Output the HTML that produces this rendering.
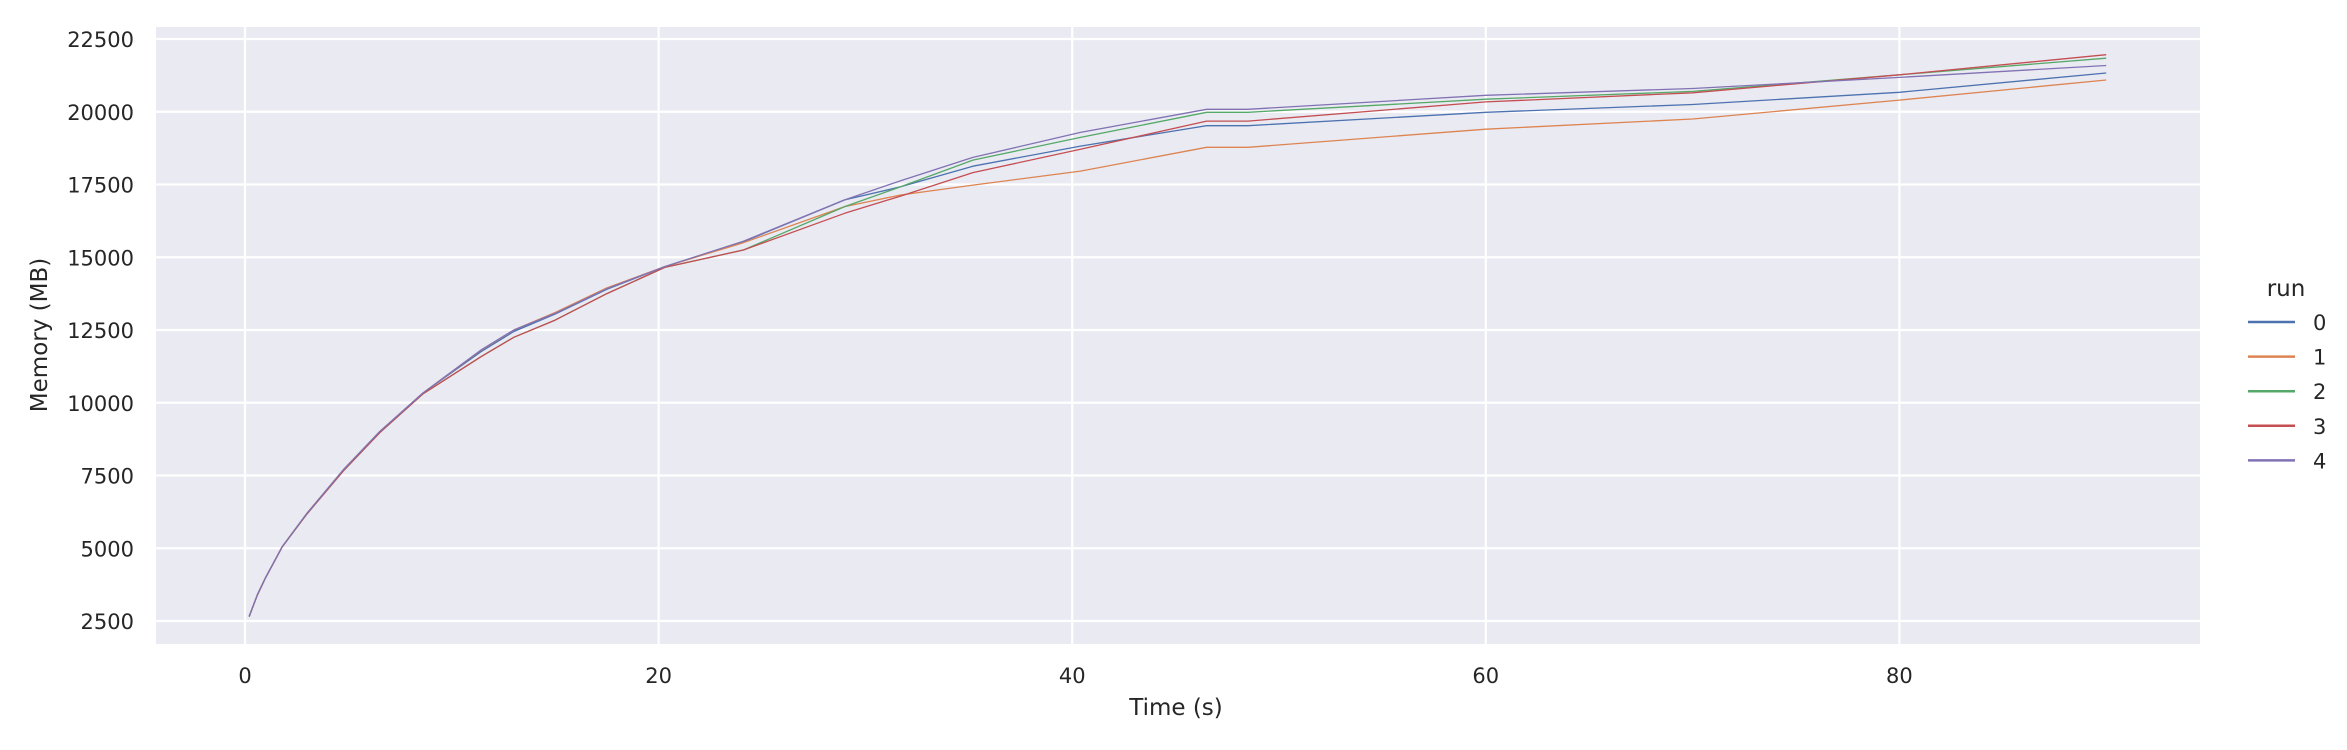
<!DOCTYPE html>
<html><head><meta charset="utf-8"><style>
html,body{margin:0;padding:0;background:#fff;}
svg{display:block;font-family:"DejaVu Sans","Liberation Sans",sans-serif;}
</style></head><body>
<svg id="chart" width="2347" height="750" viewBox="0 0 2347 750" xmlns="http://www.w3.org/2000/svg">
<rect x="156" y="27" width="2044" height="617" fill="#eaeaf2"/>
<g id="grid"></g>
<g id="ticks"></g>
<g id="series"></g>
<text x="1176" y="715" font-size="23" fill="#262626" text-anchor="middle">Time (s)</text>
<text x="0" y="0" font-size="23" fill="#262626" text-anchor="middle" transform="translate(47,335) rotate(-90)">Memory (MB)</text>
<g id="legend">
<text x="2286" y="296" font-size="23" fill="#262626" text-anchor="middle">run</text>
</g>
</svg>
<script>
const times = [0.2,0.6,1,1.8,3,4.75,6.5,8.6,11.4,13,15,17.5,20.3,24.1,29,31.7,35.2,40.4,46.5,48.5,60,70,80,90];
const run0 = [2650,3400,4000,5050,6200,7690,9000,10330,11750,12450,13050,13900,14680,15530,16970,17420,18130,18820,19520,19520,19980,20250,20670,21330];
const run1 = [2650,3400,4000,5050,6200,7690,9000,10330,11800,12500,13100,13950,14680,15500,16740,17140,17480,17960,18780,18780,19400,19750,20400,21090];
const run2 = [2650,3400,4000,5050,6180,7650,8960,10300,11580,12250,12840,13750,14650,15250,16740,17420,18340,19120,19980,19980,20430,20700,21270,21840];
const run3 = [2650,3400,4000,5050,6180,7650,8960,10300,11580,12250,12840,13750,14650,15250,16510,17100,17910,18710,19680,19680,20340,20650,21270,21960];
const run4 = [2650,3400,4000,5050,6200,7690,9000,10330,11810,12500,13070,13920,14680,15550,16970,17630,18430,19290,20084,20084,20566,20800,21180,21590];
const runNames = ["0","1","2","3","4"];
const xTicks = [0,20,40,60,80];
const yTicks = [2500,5000,7500,10000,12500,15000,17500,20000,22500];

const colors = ["#4c72b0","#dd8452","#55a868","#c44e52","#8172b3"];
const NS = "http://www.w3.org/2000/svg";
function xs(t){ return 245 + t*20.68; }
function ys(v){ return 621 - (v-2500)*72.75/2500; }
function mk(tag, attrs, parent){ const e=document.createElementNS(NS,tag); for(const k in attrs) e.setAttribute(k,attrs[k]); parent.appendChild(e); return e; }

const grid=document.getElementById('grid'), ticks=document.getElementById('ticks');
xTicks.forEach(t=>{
  const l=mk('line',{x1:xs(t),x2:xs(t),y1:27,y2:644,stroke:'#fff','stroke-width':2.2},grid);
  
  
  const tx=mk('text',{x:xs(t),y:683,'font-size':21,fill:'#262626','text-anchor':'middle'},ticks);
  tx.textContent=t;
  
  
});
yTicks.forEach(v=>{
  const l=mk('line',{x1:156,x2:2200,y1:ys(v),y2:ys(v),stroke:'#fff','stroke-width':2.2},grid);
  
  
  const tx=mk('text',{x:134,y:ys(v)+8,'font-size':21,fill:'#262626','text-anchor':'end'},ticks);
  tx.textContent=v;
  
  
});
const series=document.getElementById('series'), legend=document.getElementById('legend');
[run0,run1,run2,run3,run4].forEach((vals,i)=>{
  const d=vals.map((v,j)=>(j?'L':'M')+xs(times[j]).toFixed(1)+','+ys(v).toFixed(1)).join(' ');
  const p=mk('path',{d:d,fill:'none',stroke:colors[i],'stroke-width':1.3,'stroke-linejoin':'round'},series);
  
  
  const y=322+i*34.6;
  const ll=mk('line',{x1:2248,x2:2295,y1:y,y2:y,stroke:colors[i],'stroke-width':2.5},legend);
  
  
  const lt=mk('text',{x:2313,y:y+8,'font-size':21,fill:'#262626'},legend);
  lt.textContent=runNames[i];
  
  
});
</script>
</body></html>
